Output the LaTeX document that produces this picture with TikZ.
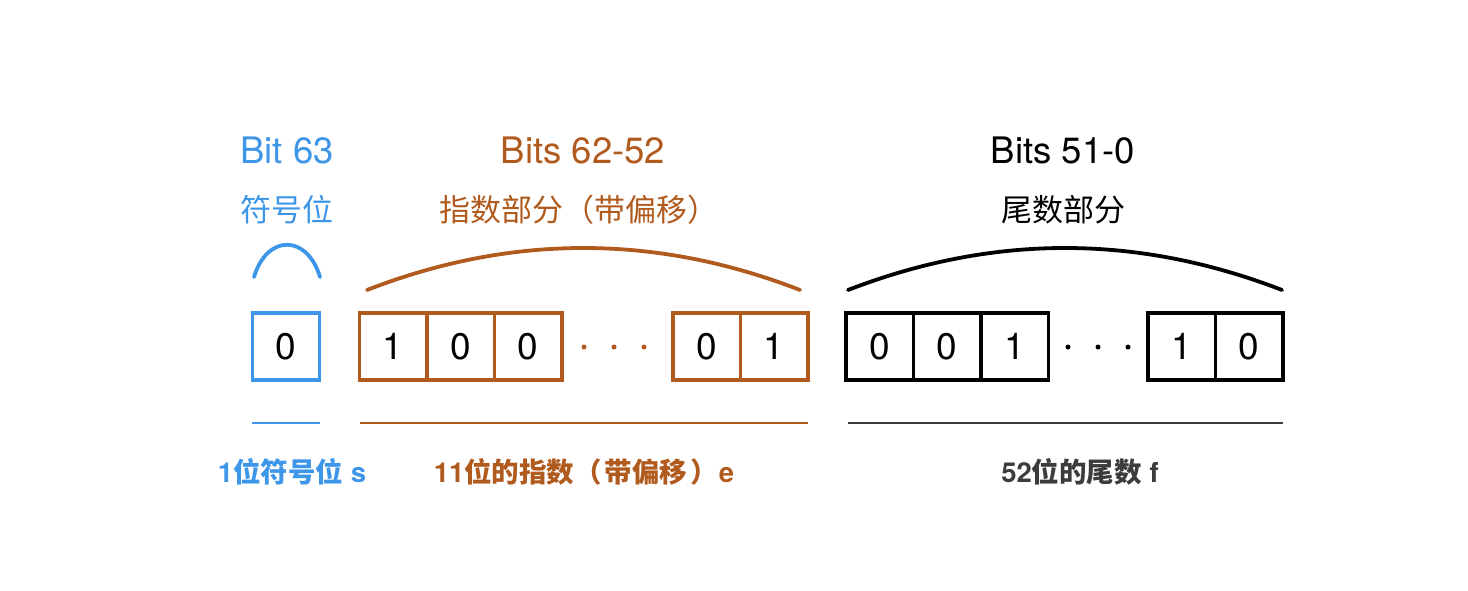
\documentclass[tikz,border=0pt]{standalone}
\usepackage{fontspec}
\setmainfont{TeX Gyre Heros}
\newfontfamily\cjk{Noto Sans CJK SC}
\definecolor{sblue}{RGB}{62,150,232}
\definecolor{sorange}{RGB}{176,90,30}
\definecolor{sgray}{RGB}{60,60,60}
\begin{document}
\begin{tikzpicture}[x=1pt,y=-1pt,
  cell/.style={draw,line width=3.3pt,minimum width=67.5pt,minimum height=67pt,inner sep=0pt,
    font=\fontsize{37}{42}\selectfont,text=black},
  dotn/.style={circle,fill,inner sep=0pt,minimum size=5pt},
  head/.style={font=\fontsize{36.5}{42}\selectfont,inner sep=0pt},
  sub/.style={font=\fontsize{31}{36}\selectfont\cjk,inner sep=0pt},
  bot/.style={font=\fontsize{27.5}{32}\selectfont\bfseries,inner sep=0pt},
  arcline/.style={line width=3.8pt,line cap=round},
  under/.style={line width=2pt}]
\useasboundingbox (0,0) rectangle (1468,590);
% sign
\node[head,text=sblue] (h1) at (287,150) {Bit 63};
\node[sub,text=sblue] (s1) at (287,210) {符号位};
\node[cell,draw=sblue] (b0) at (286,346.5) {0};
\coordinate (a1l) at (254,277); \coordinate (a1r) at (320,277);
\draw[arcline,sblue] (a1l) .. controls (267,234) and (307,234) .. (a1r);
\coordinate (u1l) at (252,423); \coordinate (u1r) at (320,423);
\draw[under,sblue] (u1l) -- (u1r);
\node[bot,text=sblue] (l1) at (292,472) {1{\cjk\bfseries 位符号位} s};
% exponent
\node[head,text=sorange] (h2) at (583,150) {Bits 62-52};
\node[sub,text=sorange] (s2) at (579,210) {指数部分（带偏移）};
\node[cell,draw=sorange] (e1) at (393.25,346.5) {1};
\node[cell,draw=sorange] (e2) at (460.75,346.5) {0};
\node[cell,draw=sorange] (e3) at (528.25,346.5) {0};
\node[dotn,sorange] (ed1) at (584,347) {};
\node[dotn,sorange] (ed2) at (614,347) {};
\node[dotn,sorange] (ed3) at (644,347) {};
\node[cell,draw=sorange] (e4) at (706.75,346.5) {0};
\node[cell,draw=sorange] (e5) at (774.25,346.5) {1};
\coordinate (a2l) at (367,290); \coordinate (a2r) at (800,290);
\draw[arcline,sorange] (a2l) .. controls (511,234) and (656,234) .. (a2r);
\coordinate (u2l) at (360,423); \coordinate (u2r) at (808,423);
\draw[under,sorange] (u2l) -- (u2r);
\node[bot,text=sorange] (l2) at (584,472) {11{\cjk\bfseries 位的指数（\hspace{3pt}带偏移\hspace{3pt}）}\hspace{1pt}e};
% fraction
\node[head,text=black] (h3) at (1063,150) {Bits 51-0};
\node[sub,text=black] (s3) at (1063,210) {尾数部分};
\node[cell,draw=black] (f1) at (879.75,346.5) {0};
\node[cell,draw=black] (f2) at (947.25,346.5) {0};
\node[cell,draw=black] (f3) at (1014.75,346.5) {1};
\node[dotn,black] (fd1) at (1068,347) {};
\node[dotn,black] (fd2) at (1098,347) {};
\node[dotn,black] (fd3) at (1128,347) {};
\node[cell,draw=black] (f4) at (1181.75,346.5) {1};
\node[cell,draw=black] (f5) at (1249.25,346.5) {0};
\coordinate (a3l) at (848,290); \coordinate (a3r) at (1282,290);
\draw[arcline,black] (a3l) .. controls (993,234) and (1137,234) .. (a3r);
\coordinate (u3l) at (848,423); \coordinate (u3r) at (1283,423);
\draw[under,sgray] (u3l) -- (u3r);
\node[bot,text=sgray] (l3) at (1080,472) {52{\cjk\bfseries 位的尾数} f};
\end{tikzpicture}
\end{document}
